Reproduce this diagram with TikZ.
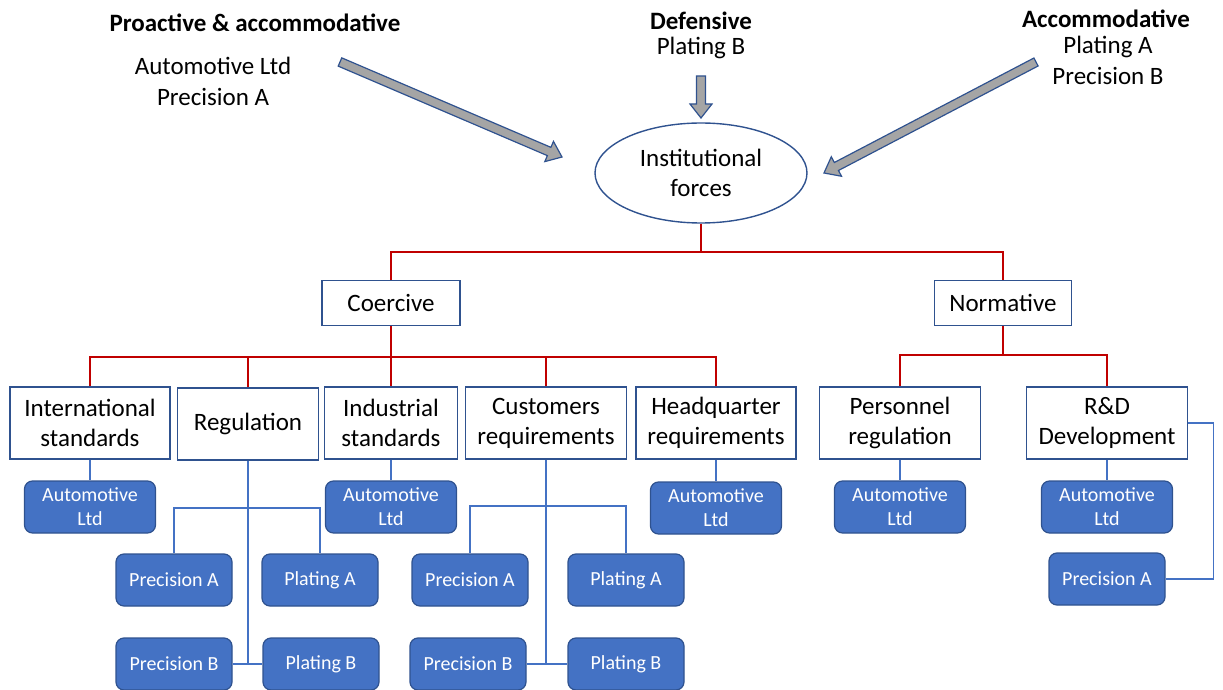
\documentclass[tikz,border=0pt]{standalone}
\usepackage{fontspec}
\setmainfont{Carlito}
\usetikzlibrary{shapes.geometric,calc}

\definecolor{boxblue}{HTML}{4472C4}
\definecolor{edgeblue}{HTML}{2F528F}
\definecolor{treered}{HTML}{C00000}
\definecolor{arrowgrey}{HTML}{A5A5A5}

\tikzset{
  force/.style={draw=edgeblue, line width=0.7pt, fill=white, align=center,
    inner sep=2pt, minimum height=36pt, font=\fontsize{12.5}{15}\selectfont},
  firm/.style={draw=edgeblue, line width=0.6pt, fill=boxblue, text=white,
    rounded corners=4pt, align=center, minimum width=65.5pt, minimum height=26pt,
    inner sep=1pt, font=\fontsize{10}{12}\selectfont},
  smallfirm/.style={firm, minimum width=58pt},
  heading/.style={font=\fontsize{12.5}{15}\selectfont\bfseries},
  plain/.style={align=center, font=\fontsize{12.5}{15.5}\selectfont},
  tree/.style={draw=treered, line width=0.7pt},
  link/.style={draw=boxblue, line width=0.6pt},
  forcearrow/.style={fill=arrowgrey, draw=edgeblue, line width=0.6pt, line join=miter}
}

% block arrow from #1 (tail) to #2 (tip)
\newcommand{\blockarrow}[2]{%
  \coordinate (ahead) at ($(#2)!7pt!(#1)$);
  \filldraw[forcearrow] ($(#1)!2.25pt!90:(#2)$) -- ($(ahead)!2.25pt!90:(#2)$)
    -- ($(ahead)!5.5pt!90:(#2)$) -- (#2) -- ($(ahead)!5.5pt!-90:(#2)$)
    -- ($(ahead)!2.25pt!-90:(#2)$) -- ($(#1)!2.25pt!-90:(#2)$) -- cycle;
}

\begin{document}
\begin{tikzpicture}[x=0.5pt, y=-0.5pt]
  \useasboundingbox (0,0) rectangle (1223,690);

  % responses
  \node[heading] (proact) at (255,23) {Proactive \& accommodative};
  \node[plain] (proactfirms) at (213,81) {Automotive Ltd\\Precision A};
  \node[heading] (defens) at (701,21) {Defensive};
  \node[plain] (defensfirms) at (701,48) {Plating B};
  \node[heading] (accomm) at (1106,19) {Accommodative};
  \node[plain] (accommfirms) at (1108,60) {Plating A\\Precision B};

  \node[ellipse, draw=edgeblue, line width=0.7pt, minimum width=106pt, minimum height=50pt,
    align=center, font=\fontsize{12.5}{15}\selectfont] (inst) at (701,173) {Institutional\\forces};

  \coordinate (ltail) at (340,62);  \coordinate (ltip) at (562,157);
  \coordinate (mtail) at (701,76);  \coordinate (mtip) at (701,118);
  \coordinate (rtail) at (1036,62); \coordinate (rtip) at (824,173);
  \blockarrow{ltail}{ltip}
  \blockarrow{mtail}{mtip}
  \blockarrow{rtail}{rtip}

  % pressures
  \node[force, minimum width=69pt, minimum height=22.5pt] (coer) at (391,303) {Coercive};
  \node[force, minimum width=68.5pt, minimum height=22.5pt] (norm) at (1003,303) {Normative};

  \node[force, minimum width=80pt] (intl) at (90,423) {International\\standards};
  \node[force, minimum width=70.5pt] (regu) at (248,424) {Regulation};
  \node[force, minimum width=66.5pt] (indu) at (391,423) {Industrial\\standards};
  \node[force, minimum width=80.5pt] (cust) at (546,423) {Customers\\requirements};
  \node[force, minimum width=80pt] (head) at (716,423) {Headquarter\\requirements};
  \node[force, minimum width=80.5pt] (pers) at (900,423) {Personnel\\regulation};
  \node[force, minimum width=80.5pt] (rnd) at (1107,423) {R\&D\\Development};

  \coordinate (split1) at (701,252);
  \coordinate (split2) at (391,357);
  \coordinate (split3) at (1003,355);
  \draw[tree] (inst) -- (split1);
  \draw[tree] (coer.north) |- (split1) -| (norm.north);
  \draw[tree] (coer) -- (split2);
  \foreach \n in {intl,regu,indu,cust,head}
    \draw[tree] (split2) -| (\n.north);
  \draw[tree] (norm) -- (split3);
  \foreach \n in {pers,rnd}
    \draw[tree] (split3) -| (\n.north);

  % firms
  \node[firm] (auto1) at (90,507) {Automotive\\Ltd};
  \node[firm] (auto2) at (391,507) {Automotive\\Ltd};
  \node[firm] (auto3) at (716,508) {Automotive\\Ltd};
  \node[firm] (auto4) at (900,507) {Automotive\\Ltd};
  \node[firm] (auto5) at (1107,507) {Automotive\\Ltd};
  \node[smallfirm] (pa5) at (1107,579) {Precision A};

  \node[smallfirm] (pa1) at (174,580) {Precision A};
  \node[smallfirm] (la1) at (320,580) {Plating A};
  \node[smallfirm] (pb1) at (174,664) {Precision B};
  \node[smallfirm] (lb1) at (321,664) {Plating B};

  \node[smallfirm] (pa2) at (470,580) {Precision A};
  \node[smallfirm] (la2) at (626,580) {Plating A};
  \node[smallfirm] (pb2) at (468,664) {Precision B};
  \node[smallfirm] (lb2) at (626,664) {Plating B};

  \foreach \a/\b in {intl/auto1,indu/auto2,head/auto3,pers/auto4,rnd/auto5}
    \draw[link] (\a) -- (\b);

  \coordinate (rj1) at (248,508);
  \coordinate (rj2) at (546,506);
  \draw[link] (regu.south) -- (regu.south |- pb1);
  \draw[link] (pa1.north) |- (rj1) -| (la1.north);
  \draw[link] (pb1.east) -- (lb1.west);
  \draw[link] (cust.south) -- (cust.south |- pb2);
  \draw[link] (pa2.north) |- (rj2) -| (la2.north);
  \draw[link] (pb2.east) -- (lb2.west);
  \draw[link] (rnd.east) -- ++(25,0) |- (pa5.east);
\end{tikzpicture}
\end{document}
